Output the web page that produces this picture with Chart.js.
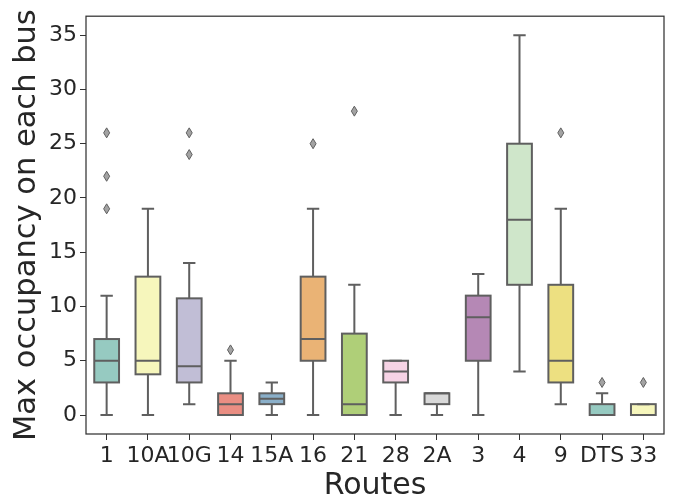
<!DOCTYPE html>
<html>
<head>
<meta charset="utf-8">
<script src="https://cdn.jsdelivr.net/npm/chart.js@4/dist/chart.umd.min.js"></script>
<style>
  body { margin: 0; background: #fff; }
  canvas { display: block; }
</style>
</head>
<body>
<canvas id="chart" width="673" height="502"></canvas>
<script>
// box plot summaries per route
const routes = ['1', '10A', '10G', '14', '15A', '16', '21', '28', '2A', '3', '4', '9', 'DTS', '33'];
const whiskerLow = [0, 0, 1, 0, 0, 0, 0, 0, 0, 0, 4, 1, 0, 0];
const q1 = [3, 3.75, 3, 0, 1, 5, 0, 3, 1, 5, 12, 3, 0, 0];
const medians = [5, 5, 4.5, 1, 1.5, 7, 1, 4, 2, 9, 18, 5, 0, 0];
const q3 = [7, 12.75, 10.75, 2, 2, 12.75, 7.5, 5, 2, 11, 25, 12, 1, 1];
const whiskerHigh = [11, 19, 14, 5, 3, 19, 12, 5, 2, 13, 35, 19, 2, 1];
const outliers = [[19, 22, 26], [], [24, 26], [6], [], [25], [28], [], [], [], [], [26], [3], [3]];
const yTicks = [0, 5, 10, 15, 20, 25, 30, 35];

const set3 = ['#8dd3c7', '#ffffb3', '#bebada', '#fb8072', '#80b1d3', '#fdb462',
              '#b3de69', '#fccde5', '#d9d9d9', '#bc80bd', '#ccebc5', '#ffed6f'];
const lineGray = '#5f5f5f';
const textColor = '#262626';
const fontFamily = '"DejaVu Sans", sans-serif';

// seaborn desaturates the palette to 75% saturation
function desaturate(hex, prop){
    let r = parseInt(hex.slice(1, 3), 16) / 255;
    let g = parseInt(hex.slice(3, 5), 16) / 255;
    let b = parseInt(hex.slice(5, 7), 16) / 255;
    const max = Math.max(r, g, b), min = Math.min(r, g, b);
    const l = (max + min) / 2;
    if (max === min) return hex;
    const d = max - min;
    let s = l > 0.5 ? d / (2 - max - min) : d / (max + min);
    let h;
    if (max === r) h = ((g - b) / d + (g < b ? 6 : 0)) / 6;
    else if (max === g) h = ((b - r) / d + 2) / 6;
    else h = ((r - g) / d + 4) / 6;
    s *= prop;
    const q = l < 0.5 ? l * (1 + s) : l + s - l * s;
    const p = 2 * l - q;
    const hue = (t) => {
        if (t < 0) t += 1;
        if (t > 1) t -= 1;
        if (t < 1 / 6) return p + (q - p) * 6 * t;
        if (t < 1 / 2) return q;
        if (t < 2 / 3) return p + (q - p) * (2 / 3 - t) * 6;
        return p;
    };
    const to = (v) => Math.round(v * 255);
    return `rgb(${to(hue(h + 1 / 3))}, ${to(hue(h))}, ${to(hue(h - 1 / 3))})`;
}

const boxColors = routes.map((_, i) => desaturate(set3[i % set3.length], 0.75));

const boxPlotExtras = {
    id: 'boxPlotExtras',
    afterDatasetsDraw(chart){
        const ctx = chart.ctx;
        const y = chart.scales.y;
        const meta = chart.getDatasetMeta(0);
        ctx.save();
        ctx.strokeStyle = lineGray;
        ctx.lineWidth = 2;
        ctx.lineCap = 'butt';
        meta.data.forEach((bar, i) => {
            const cx = bar.x;
            const half = bar.width / 2;
            const cap = half / 2;
            const top = y.getPixelForValue(q3[i]);
            const bottom = y.getPixelForValue(q1[i]);
            // box outline centred on the quartile edges
            ctx.strokeRect(cx - half, top, half * 2, bottom - top);
            ctx.beginPath();
            // whiskers
            ctx.moveTo(cx, bottom);
            ctx.lineTo(cx, y.getPixelForValue(whiskerLow[i]));
            ctx.moveTo(cx, top);
            ctx.lineTo(cx, y.getPixelForValue(whiskerHigh[i]));
            // caps
            ctx.moveTo(cx - cap, y.getPixelForValue(whiskerLow[i]));
            ctx.lineTo(cx + cap, y.getPixelForValue(whiskerLow[i]));
            ctx.moveTo(cx - cap, y.getPixelForValue(whiskerHigh[i]));
            ctx.lineTo(cx + cap, y.getPixelForValue(whiskerHigh[i]));
            // median
            ctx.moveTo(cx - half, y.getPixelForValue(medians[i]));
            ctx.lineTo(cx + half, y.getPixelForValue(medians[i]));
            ctx.stroke();

            // outliers as thin diamonds
            outliers[i].forEach(v => {
                const py = y.getPixelForValue(v);
                ctx.beginPath();
                ctx.moveTo(cx, py - 5);
                ctx.lineTo(cx + 3, py);
                ctx.lineTo(cx, py + 5);
                ctx.lineTo(cx - 3, py);
                ctx.closePath();
                ctx.fillStyle = '#a3a3a3';
                ctx.fill();
                ctx.lineWidth = 1;
                ctx.stroke();
                ctx.lineWidth = 2;
            });
        });
        ctx.restore();

        // frame round the plot area
        const a = chart.chartArea;
        ctx.save();
        ctx.strokeStyle = '#333333';
        ctx.lineWidth = 1.25;
        ctx.strokeRect(a.left, a.top, a.right - a.left, a.bottom - a.top);
        ctx.restore();
    }
};

new Chart(document.getElementById('chart'), {
    type: 'bar',
    data: {
        labels: routes,
        datasets: [{
            data: routes.map((_, i) => [q1[i], q3[i]]),
            backgroundColor: boxColors,
            borderWidth: 0,
            barPercentage: 0.6,
            categoryPercentage: 1
        }]
    },
    options: {
        responsive: false,
        animation: false,
        layout: { padding: { top: 14, right: 9, left: 0, bottom: 0 } },
        plugins: {
            legend: { display: false },
            tooltip: { enabled: false }
        },
        scales: {
            x: {
                grid: { display: true, offset: false, drawOnChartArea: false, drawTicks: true, tickLength: 6, color: '#333333' },
                border: { display: false },
                ticks: {
                    autoSkip: false, maxRotation: 0, minRotation: 0, padding: 3,
                    color: textColor, font: { family: fontFamily, size: 22 }
                },
                title: {
                    display: true, text: 'Routes', color: textColor,
                    font: { family: fontFamily, size: 30, lineHeight: 1.2 },
                    padding: { top: 0, bottom: -2 }
                },
                afterFit(scale){ scale.height = 68; }
            },
            y: {
                min: -1.75,
                max: 36.75,
                grid: { display: true, drawOnChartArea: false, drawTicks: true, tickLength: 6, color: '#333333' },
                border: { display: false },
                ticks: {
                    padding: 3, color: textColor, font: { family: fontFamily, size: 22 }
                },
                afterBuildTicks(scale){ scale.ticks = yTicks.map(v => ({ value: v })); },
                title: {
                    display: true, text: 'Max occupancy on each bus', color: textColor,
                    font: { family: fontFamily, size: 30.5, lineHeight: 1.2 },
                    padding: { top: 9, bottom: 0 }
                },
                afterFit(scale){ scale.width = 86; }
            }
        }
    },
    plugins: [boxPlotExtras]
});
</script>
</body>
</html>
